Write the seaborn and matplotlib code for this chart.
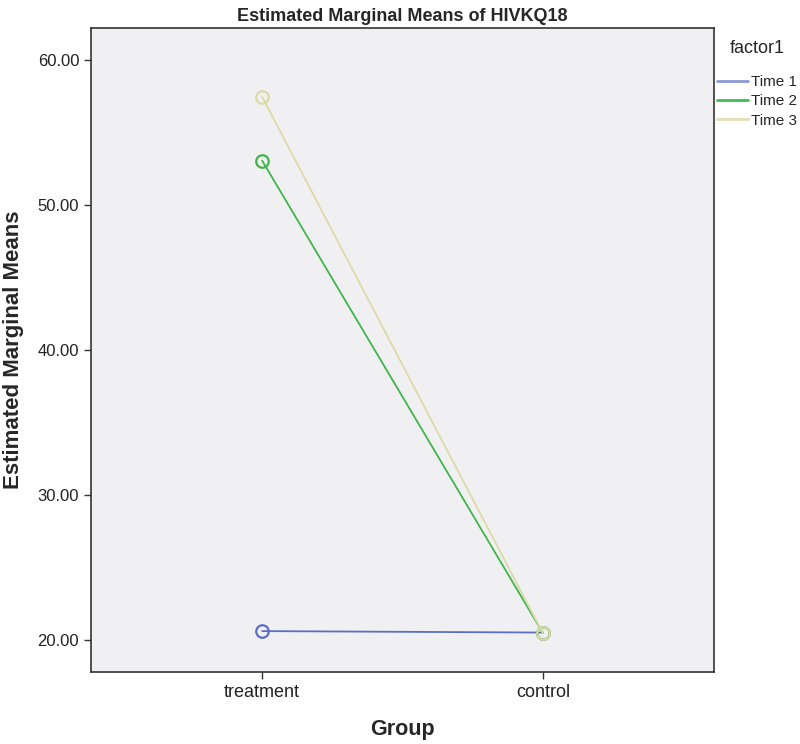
import matplotlib
matplotlib.use("Agg")
import matplotlib.pyplot as plt
from matplotlib.lines import Line2D
import seaborn as sns
import pandas as pd

groups = ["treatment", "control"]
series = ["Time 1", "Time 2", "Time 3"]
time1 = [20.62, 20.52]
time2 = [53.05, 20.50]
time3 = [57.45, 20.48]
colors = ["#5b6ec4", "#3fb54a", "#dcdaa6"]
legend_colors = ["#8b9ad6", "#3fbf4f", "#e2dfb0"]
yticks = [20, 30, 40, 50, 60]

rows = []
for name, vals in zip(series, [time1, time2, time3]):
    for g, v in zip(groups, vals):
        rows.append({"Group": g, "factor1": name, "value": v})
df = pd.DataFrame(rows)

sns.set_style("white")
plt.rcParams["font.family"] = ["Liberation Sans", "DejaVu Sans"]

fig = plt.figure(figsize=(8, 7.44), dpi=100)
ax = fig.add_axes([91/800, 1 - 672/744, (714 - 91)/800, (672 - 28)/744])
ax.set_facecolor("#f0f0f3")

sns.lineplot(data=df, x="Group", y="value", hue="factor1", hue_order=series,
             palette=colors, marker="o", ax=ax, legend=False, linewidth=1.3,
             sort=False)
for line, c in zip(ax.lines, colors):
    line.set_markerfacecolor("none")
    line.set_markeredgecolor(c)
    line.set_markeredgewidth(1.6)
    line.set_markersize(9)

ax.set_xlim(-0.61, 1.61)
ax.set_ylim(17.8, 62.2)
ax.set_yticks(yticks)
ax.set_yticklabels([f"{v:.2f}" for v in yticks])
ax.tick_params(axis="both", which="both", direction="out", length=5, width=1,
               color="#333333", labelcolor="#222222", left=True, bottom=True)
ax.tick_params(axis="y", labelsize=12)
ax.tick_params(axis="x", labelsize=13)
for s in ax.spines.values():
    s.set_color("#333333")
    s.set_linewidth(1.2)

ax.set_title("Estimated Marginal Means of HIVKQ18", fontsize=13, fontweight="bold", pad=5)
ax.set_xlabel("Group", fontsize=15.5, fontweight="bold", labelpad=13)
ax.set_ylabel("Estimated Marginal Means", fontsize=16, fontweight="bold", labelpad=10)

handles = [Line2D([0], [0], color=c, lw=2) for c in legend_colors]
leg = ax.legend(handles, series, title="factor1", loc="upper left",
                bbox_to_anchor=(1.0 + 3/623, 1 - 12/644), frameon=False, fontsize=11,
                title_fontsize=13, handlelength=2.0, handletextpad=0.25,
                labelspacing=0.35, borderaxespad=0, borderpad=0)
leg._legend_box.sep = 13

fig.savefig("out.png", dpi=100)
